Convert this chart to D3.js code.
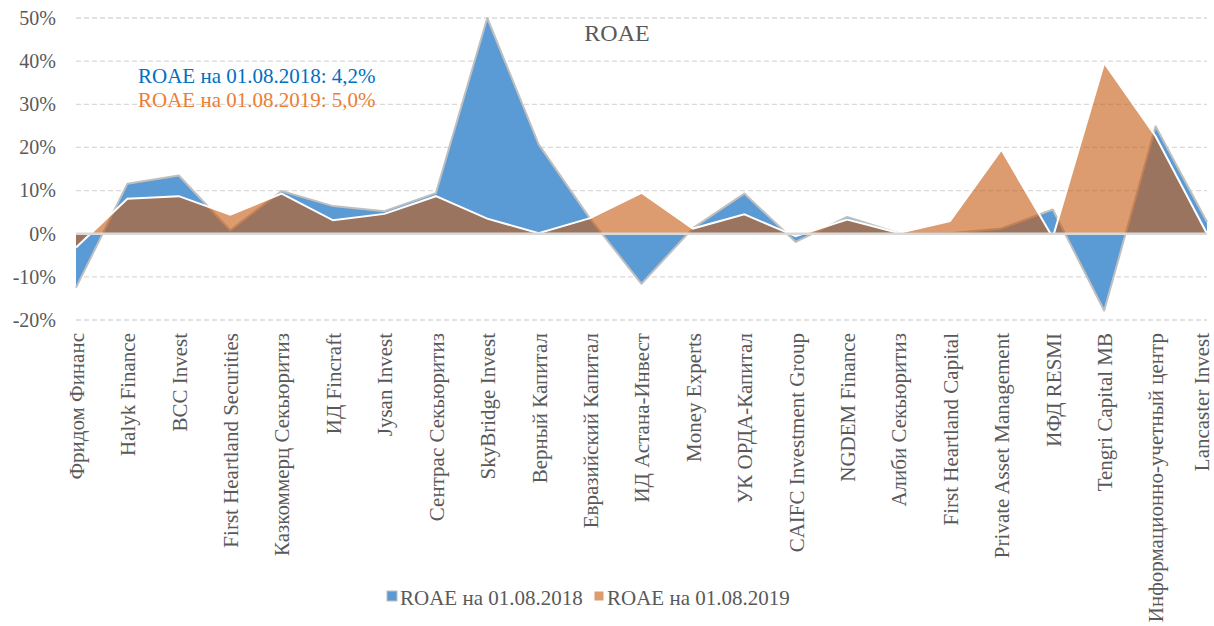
<!DOCTYPE html>
<html>
<head>
<meta charset="utf-8">
<script src="https://cdn.jsdelivr.net/npm/d3@7"></script>
<style>
  body { margin: 0; background: #fff; }
  svg { display: block; font-family: 'Liberation Serif', 'Times New Roman', serif; }
</style>
</head>
<body>
<svg id="chart" width="1214" height="626"></svg>
<script>
const companies = [
    'Фридом Финанс', 'Halyk Finance', 'BCC Invest', 'First Heartland Securities',
    'Казкоммерц Секьюритиз', 'ИД Fincraft', 'Jysan Invest', 'Сентрас Секьюритиз',
    'SkyBridge Invest', 'Верный Капитал', 'Евразийский Капитал', 'ИД Астана-Инвест',
    'Money Experts', 'УК ОРДА-Капитал', 'CAIFC Investment Group', 'NGDEM Finance',
    'Алиби Секьюритиз', 'First Heartland Capital', 'Private Asset Management',
    'ИФД RESMI', 'Tengri Capital MB', 'Информационно-учетный центр', 'Lancaster Invest'
];
const roae2018 = [-12.5, 11.6, 13.5, 0.8, 9.9, 6.4, 5.2, 9.4, 50.0, 20.7, 3.5, -11.6,
    1.3, 9.3, -1.9, 3.9, 0.1, 0.1, 1.2, 5.6, -17.8, 24.9, 2.7];
const roae2019 = [-3.2, 8.1, 8.7, 4.4, 9.3, 3.1, 4.6, 8.7, 3.5, 0.1, 3.6, 9.5,
    1.2, 4.5, -0.6, 3.3, 0.2, 2.9, 19.5, -0.9, 39.6, 22.6, 0.0];
const yTicks = [-20, -10, 0, 10, 20, 30, 40, 50];
const seriesNames = ['ROAE на 01.08.2018', 'ROAE на 01.08.2019'];
const averages = ['4,2%', '5,0%'];

const svg = d3.select('#chart');
const margin = { top: 18, right: 7, bottom: 306, left: 76 };
const width = 1214 - margin.left - margin.right;
const height = 626 - margin.top - margin.bottom;
const g = svg.append('g').attr('transform', `translate(${margin.left},${margin.top})`);

const x = d3.scalePoint().domain(companies).range([0, width]).padding(0);
const y = d3.scaleLinear().domain([-20, 50]).range([height, 0]);

// Gridlines
g.append('g')
    .selectAll('line')
    .data(yTicks.filter(d => d !== 0))
    .join('line')
    .attr('x1', 0)
    .attr('x2', width)
    .attr('y1', d => y(d))
    .attr('y2', d => y(d))
    .attr('stroke', '#d9d9d9')
    .attr('stroke-width', 1.3)
    .attr('stroke-dasharray', '5,3');

// Y axis labels
g.append('g')
    .call(d3.axisLeft(y).tickValues(yTicks).tickSize(0).tickPadding(20).tickFormat(d => d + '%'))
    .call(a => a.select('.domain').remove())
    .selectAll('text')
    .attr('font-family', 'Liberation Serif')
    .attr('font-size', '20px')
    .attr('fill', '#595959');

const area = vals => d3.area()
    .x((d, i) => x(companies[i]))
    .y0(y(0))
    .y1(d => y(d))(vals);
const line = vals => d3.line()
    .x((d, i) => x(companies[i]))
    .y(d => y(d))(vals);

// 2018 series
g.append('path')
    .attr('d', area(roae2018))
    .attr('fill', '#5b9bd5');
g.append('path')
    .attr('d', line(roae2018))
    .attr('fill', 'none')
    .attr('stroke', '#bfbfbf')
    .attr('stroke-width', 2)
    .attr('stroke-linejoin', 'round');

// 2019 series
g.append('path')
    .attr('d', area(roae2019))
    .attr('fill', '#c55a11')
    .attr('fill-opacity', 0.6);
g.append('path')
    .attr('d', line(roae2019))
    .attr('fill', 'none')
    .attr('stroke', '#ffffff')
    .attr('stroke-width', 2);

// Zero axis line
g.append('line')
    .attr('x1', 0)
    .attr('x2', width)
    .attr('y1', y(0))
    .attr('y2', y(0))
    .attr('stroke', '#d9d9d9')
    .attr('stroke-width', 2.5);

// Category labels
const lastCompany = companies[companies.length - 1];
g.append('g')
    .attr('transform', `translate(0,${height})`)
    .call(d3.axisBottom(x).tickSize(0).tickPadding(0))
    .call(a => a.select('.domain').remove())
    .selectAll('text')
    .attr('font-family', 'Liberation Serif')
    .attr('font-size', '21px')
    .attr('fill', '#595959')
    .attr('transform', 'rotate(-90)')
    .attr('x', -13)
    .attr('y', 0)
    .attr('dy', d => d === lastCompany ? '0.05em' : '0.35em')
    .style('text-anchor', 'end');

// Title
svg.append('text')
    .attr('x', 617)
    .attr('y', 41)
    .attr('text-anchor', 'middle')
    .attr('font-size', '24px')
    .attr('fill', '#595959')
    .text('ROAE');

// Average annotations
const annColors = ['#0070c0', '#ed7d31'];
svg.append('g')
    .selectAll('text')
    .data(seriesNames)
    .join('text')
    .attr('x', 138)
    .attr('y', (d, i) => 83 + i * 24)
    .attr('font-size', '21px')
    .attr('fill', (d, i) => annColors[i])
    .text((d, i) => `${d}: ${averages[i]}`);

// Legend
const legend = svg.append('g').attr('transform', 'translate(387,598)');
const legendItems = [
    { name: seriesNames[0], fill: '#5b9bd5', stroke: '#bfbfbf', x: 0 },
    { name: seriesNames[1], fill: '#dd9b6e', stroke: '#ffffff', x: 207 }
];
legendItems.forEach(item => {
    legend.append('rect')
        .attr('x', item.x)
        .attr('y', -7)
        .attr('width', 10)
        .attr('height', 10)
        .attr('fill', item.fill)
        .attr('stroke', item.stroke)
        .attr('stroke-width', 1);
    legend.append('text')
        .attr('x', item.x + 13)
        .attr('y', 0)
        .attr('dy', '0.35em')
        .attr('font-size', '21px')
        .attr('fill', '#595959')
        .text(item.name);
});
</script>
</body>
</html>
